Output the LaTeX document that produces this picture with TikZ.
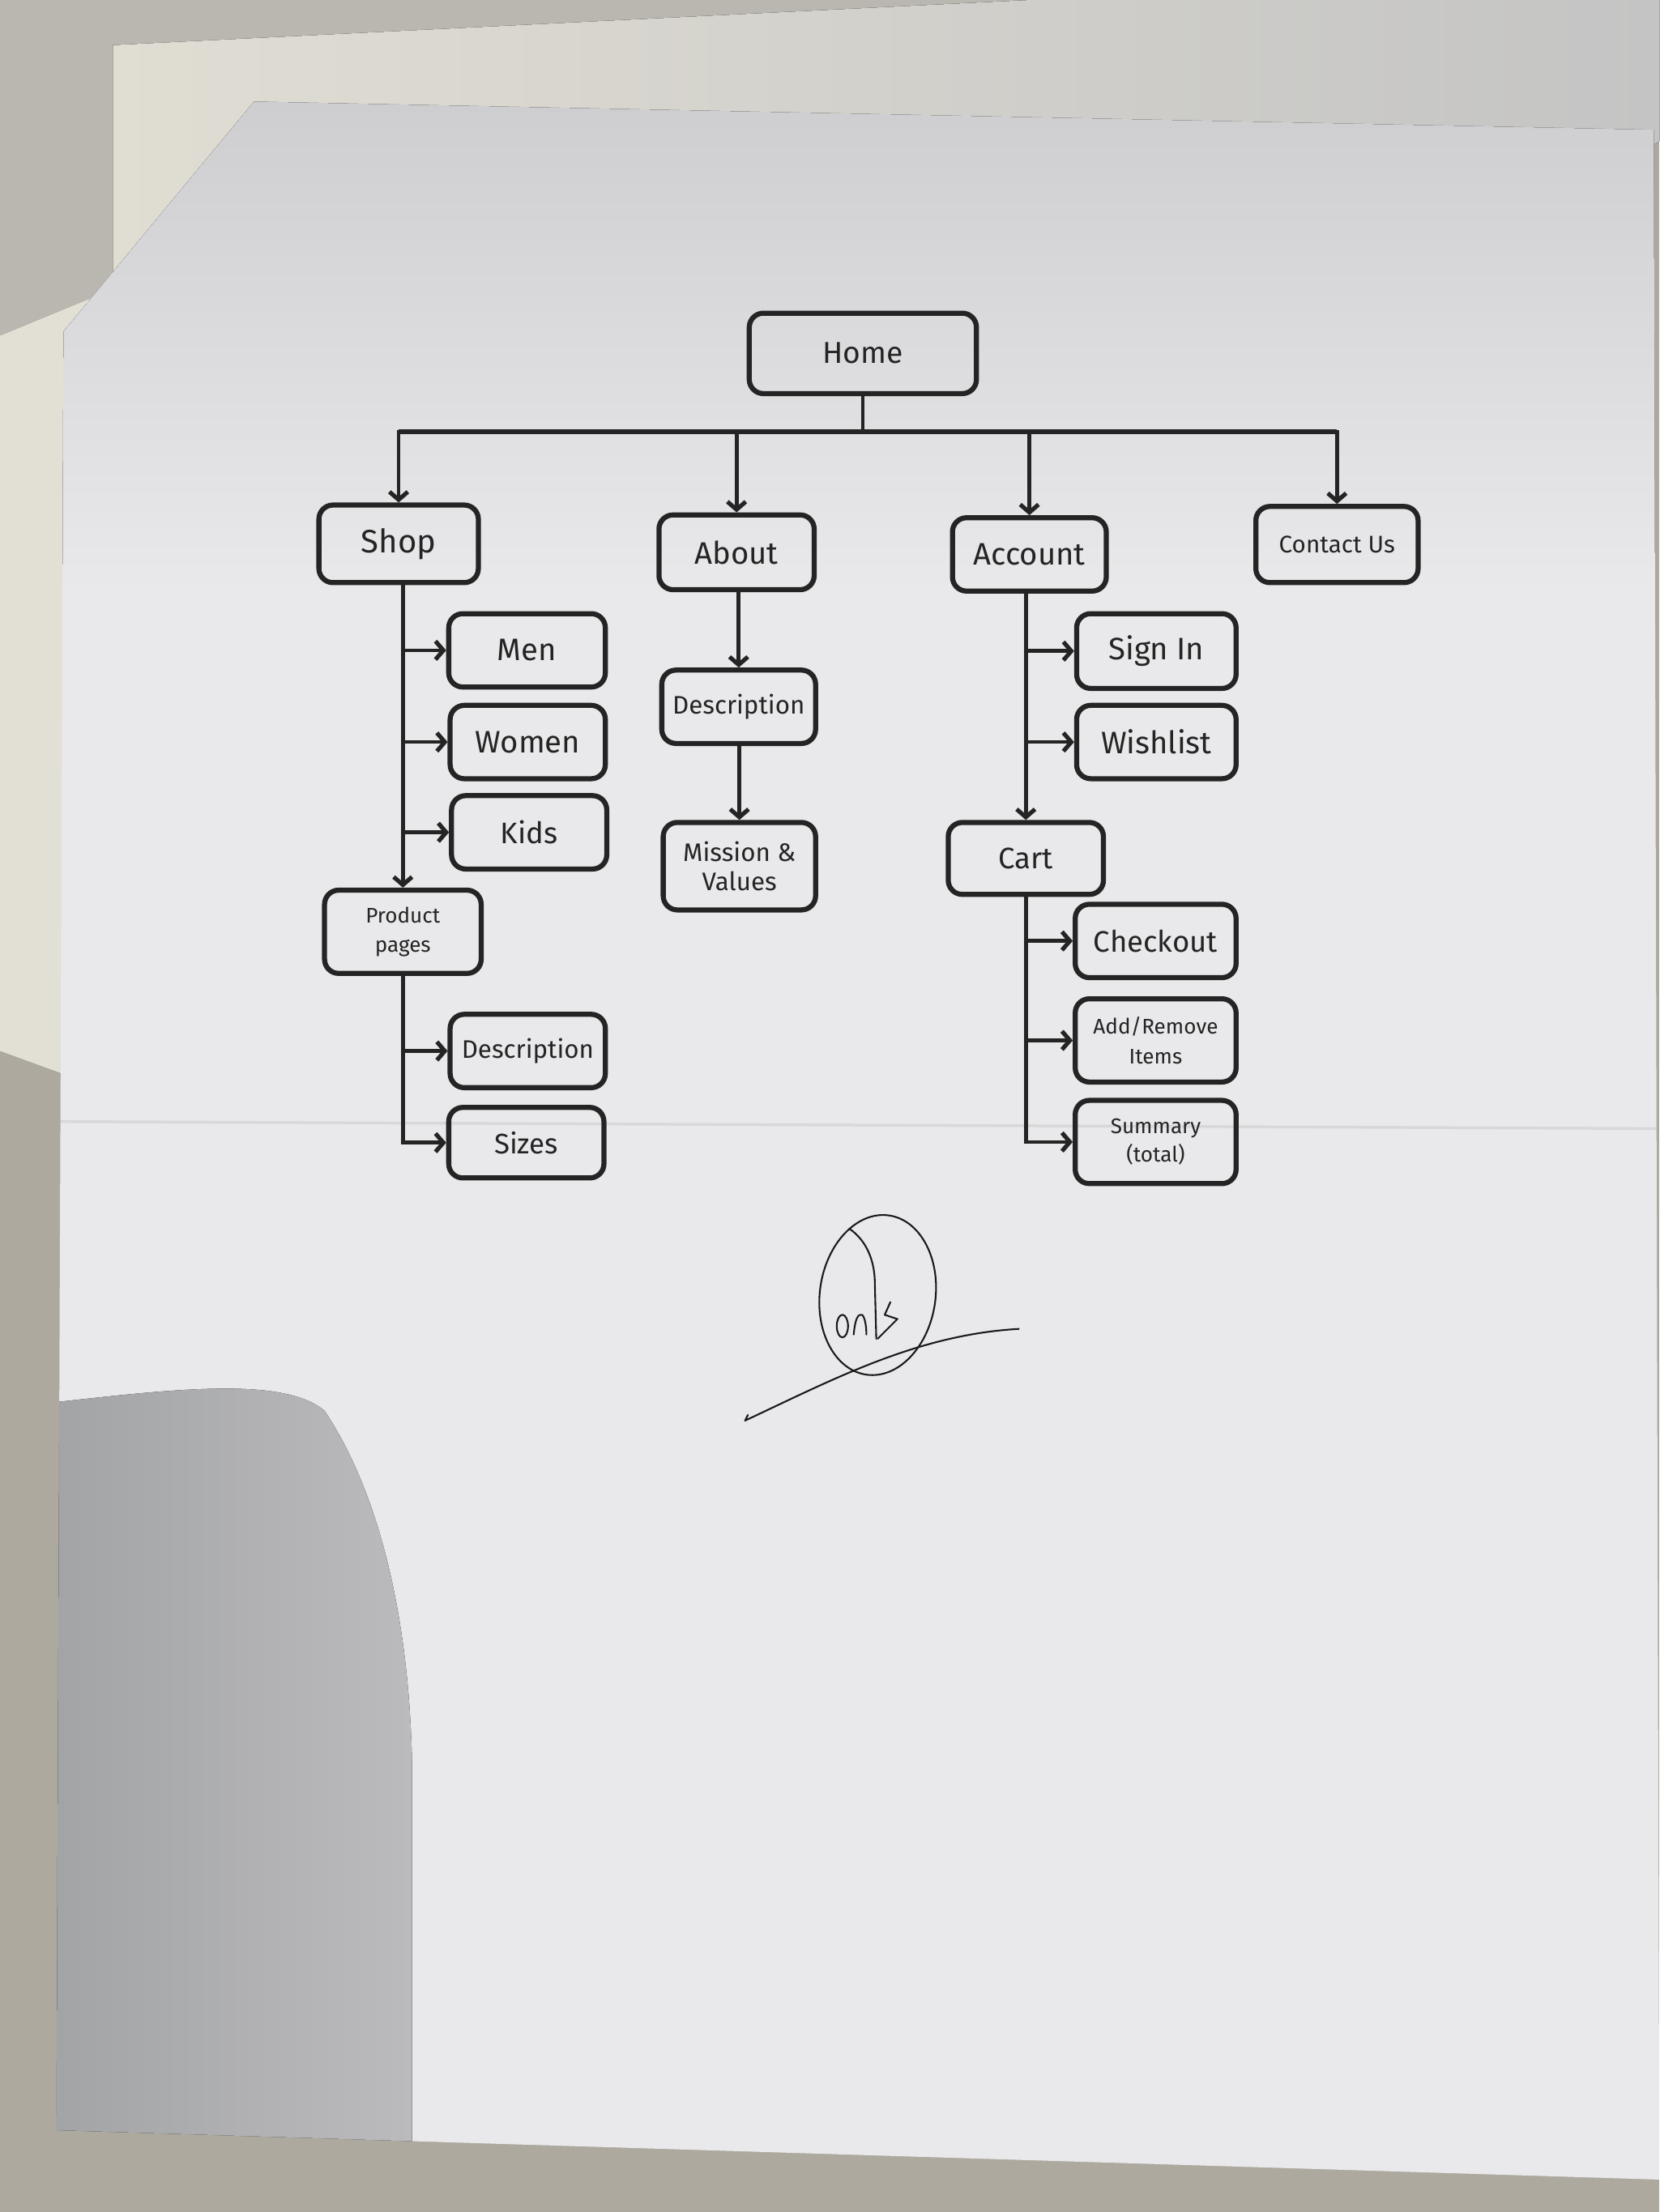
\documentclass[tikz,border=0pt]{standalone}
\usepackage{fontspec}
\setmainfont{Fira Sans}
\usetikzlibrary{arrows.meta}
\definecolor{ink}{HTML}{242424}
\definecolor{fabric}{HTML}{ADA99F}
\definecolor{sketchbg}{HTML}{BAB7B0}
\definecolor{cream}{HTML}{E2DFD4}
\definecolor{shadowgray}{HTML}{C4C4C4}
\definecolor{papertop}{HTML}{CDCDCF}
\definecolor{paper}{HTML}{E9E9EB}
\definecolor{handshadowL}{HTML}{A2A3A5}
\definecolor{handshadowR}{HTML}{BBBBBD}
\newcommand\fz[2]{\fontsize{#1}{#2}\selectfont}
\begin{document}
\begin{tikzpicture}[x=0.5pt,y=-0.5pt,
  box/.style={draw=ink, line width=1.8pt, rounded corners=5pt, inner sep=0pt,
    align=center, text=ink},
  link/.style={draw=ink, line width=1.35pt},
  arr/.style={link, -{Straight Barb[length=2.8pt,width=6.5pt,line width=1.5pt]}},
  pen/.style={draw=black!90, line width=0.6pt, line cap=round, line join=round}]
\useasboundingbox (0,0) rectangle (1176,1568);
% ---------- photo background ----------
\fill[fabric] (0,0) rectangle (1176,1568);
\fill[sketchbg] (0,0) rectangle (760,240);
\fill[left color=cream, right color=shadowgray]
  (80,32) -- (730,0) -- (1176,0) -- (1176,100) -- (55,765) -- (0,745) -- (0,238) -- (80,205) -- cycle;
\fill[cream] (0,238) -- (80,205) -- (180,72) -- (45,235) -- (55,765) -- (0,745) -- cycle;
\begin{scope}
  \clip (180,72) -- (1172,92) -- (1176,1545) -- (40,1510) -- (45,235) -- cycle;
  \fill[paper] (0,0) rectangle (1176,1568);
  \fill[top color=papertop, bottom color=paper] (0,60) rectangle (1176,420);
  \fill[left color=handshadowL, right color=handshadowR]
    (30,995) .. controls (120,985) and (200,975) .. (230,1000)
    .. controls (270,1060) and (290,1150) .. (292,1250) -- (292,1530) -- (30,1530) -- cycle;
  \draw[black, opacity=0.07, line width=1pt] (40,795) -- (1176,800);
\end{scope}
% ---------- nodes ----------
\node[box, minimum width=80.5pt, minimum height=28.5pt, font=\fz{10.7}{13}] (home) at (611.5,250.5) {Home};
\node[box, minimum width=56.5pt, minimum height=27.5pt, font=\fz{11.5}{14}] (shop) at (282.5,385.5) {Shop};
\node[box, minimum width=55pt, minimum height=26.5pt, font=\fz{11}{13}] (about) at (522,391.5) {About};
\node[box, minimum width=54.5pt, minimum height=26pt, font=\fz{11}{13}] (account) at (729.5,393) {Account};
\node[box, minimum width=57.5pt, minimum height=27pt, font=\fz{8.5}{10}] (contact) at (947.5,386) {Contact Us};
\node[box, minimum width=55.5pt, minimum height=26pt, font=\fz{11}{13}] (men) at (373.5,461) {Men};
\node[box, minimum width=55pt, minimum height=26pt, font=\fz{11}{13}] (women) at (374,526) {Women};
\node[box, minimum width=55pt, minimum height=26pt, font=\fz{10.5}{13}] (kids) at (375,590) {Kids};
\node[box, minimum width=55.5pt, minimum height=29.5pt, font=\fz{7.5}{10.5}] (prod) at (285.5,660.5) {Product\\pages};
\node[box, minimum width=55pt, minimum height=26pt, font=\fz{9}{11}] (pdesc) at (374,745) {Description};
\node[box, minimum width=55pt, minimum height=25pt, font=\fz{10}{12}] (sizes) at (373,810) {Sizes};
\node[box, minimum width=54.5pt, minimum height=26pt, font=\fz{9}{11}] (adesc) at (523.5,501) {Description};
\node[box, minimum width=54pt, minimum height=31pt, font=\fz{9}{10.5}] (mission) at (524,614) {Mission \&\\Values};
\node[box, minimum width=56.5pt, minimum height=26.5pt, font=\fz{11}{13}] (signin) at (819.5,461.5) {Sign In};
\node[box, minimum width=56.5pt, minimum height=26pt, font=\fz{11}{13}] (wish) at (819.5,526) {Wishlist};
\node[box, minimum width=55pt, minimum height=25.5pt, font=\fz{10.5}{13}] (cart) at (727,608.5) {Cart};
\node[box, minimum width=57pt, minimum height=26pt, font=\fz{10.5}{13}] (checkout) at (819,667) {Checkout};
\node[box, minimum width=57pt, minimum height=29.5pt, font=\fz{7.5}{10.5}] (addrem) at (819,737.5) {Add/Remove\\Items};
\node[box, minimum width=57pt, minimum height=29.5pt, font=\fz{7.5}{10}] (summary) at (819,809.5) {Summary\\(total)};
% ---------- connectors ----------
\coordinate (bus) at (0,306);
\draw[link] (home.south) -- (home.south |- bus);
\draw[arr] (home.south |- bus) -| (shop.north);
\draw[arr] (home.south |- bus) -| (contact.north);
\draw[link, line width=1.9pt] (shop.north |- bus) -- (contact.north |- bus);
\draw[arr] (about.north |- bus) -- (about.north);
\draw[arr] (account.north |- bus) -- (account.north);
% shop
\draw[arr] (prod.north |- shop.south) -- (prod.north);
\draw[arr] (prod.north |- men) -- (men.west);
\draw[arr] (prod.north |- women) -- (women.west);
\draw[arr] (prod.north |- kids) -- (kids.west);
\draw[arr] (prod.south) |- (sizes.west);
\draw[arr] (prod.south |- pdesc) -- (pdesc.west);
% about
\draw[arr] (adesc.north |- about.south) -- (adesc.north);
\draw[arr] (mission.north |- adesc.south) -- (mission.north);
% account
\draw[arr] (cart.north |- account.south) -- (cart.north);
\draw[arr] (cart.north |- signin) -- (signin.west);
\draw[arr] (cart.north |- wish) -- (wish.west);
\draw[arr] (cart.south) |- (summary.west);
\draw[arr] (cart.south |- checkout) -- (checkout.west);
\draw[arr] (cart.south |- addrem) -- (addrem.west);
% ---------- handwritten mark ----------
\draw[pen, rotate around={-8:(622,918)}] (622,918) ellipse [x radius=41, y radius=57];
\draw[pen] (602,871) .. controls (615,880) and (620,895) .. (620,910) -- (621,949);
\draw[pen] (597,940) ellipse [x radius=4, y radius=8];
\draw[pen] (605,946) .. controls (606,935) and (608,931) .. (611,932) .. controls (613,934) and (614,940) .. (614,946);
\draw[pen] (631,923) -- (627,932) -- (636,935) -- (622,949);
\draw[pen] (530,1003) -- (528,1007) .. controls (590,978) and (650,946) .. (722,942);
\end{tikzpicture}
\end{document}
